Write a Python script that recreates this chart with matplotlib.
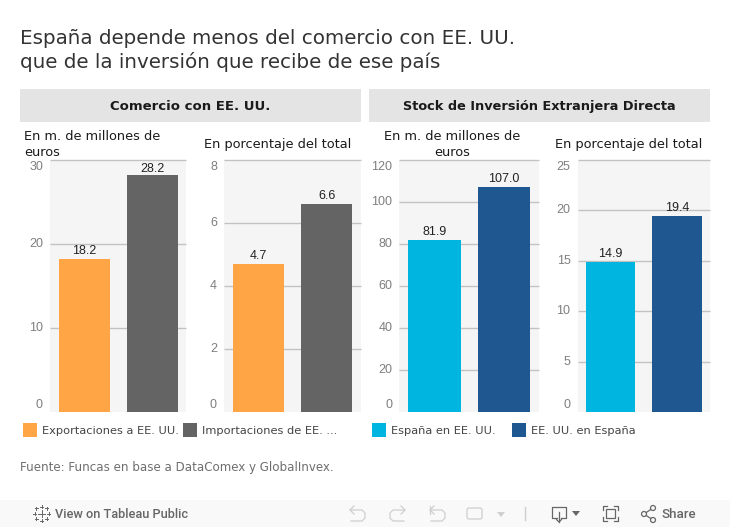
import matplotlib
matplotlib.use('Agg')
import matplotlib.pyplot as plt
from matplotlib.patches import Rectangle, Circle, FancyBboxPatch

# --- Data ---
categories = ['a', 'b']
comercio_millones = [18.2, 28.2]
comercio_pct = [4.7, 6.6]
inversion_millones = [81.9, 107.0]
inversion_pct = [14.9, 19.4]

ticks_comercio_millones = [0, 10, 20, 30]
ticks_comercio_pct = [0, 2, 4, 6, 8]
ticks_inversion_millones = [0, 20, 40, 60, 80, 100, 120]
ticks_inversion_pct = [0, 5, 10, 15, 20, 25]

title_lines = 'España depende menos del comercio con EE. UU.\nque de la inversión que recibe de ese país'
source = 'Fuente: Funcas en base a DataComex y GlobalInvex.'

# --- Colours ---
ORANGE = '#ffa545'
GREY = '#646464'
CYAN = '#00b5e0'
BLUE = '#1f5791'
PANEL = '#f5f5f5'
HEADER = '#e4e4e4'
GRID = '#c2c2c2'

W, H = 730, 527
SANS = 'DejaVu Sans'
ARIAL = 'Liberation Sans'

fig = plt.figure(figsize=(W / 100, H / 100), dpi=100)

# overlay in pixel coordinates for headers, legends and toolbar
ov = fig.add_axes([0, 0, 1, 1], zorder=0)
ov.set_xlim(0, W)
ov.set_ylim(H, 0)
ov.axis('off')


def add_chart(x0, x1, values, ticks, colors):
    ax = fig.add_axes([x0 / W, 1 - 412 / H, (x1 - x0) / W, 252 / H], zorder=1)
    ax.set_facecolor(PANEL)
    ax.bar([0, 1], values, width=0.75, color=colors, zorder=3)
    ax.set_xlim(-0.5, 1.5)
    ax.set_ylim(0, ticks[-1])
    ax.set_xticks([])
    ax.set_yticks(ticks)
    ax.set_yticklabels([])
    ax.tick_params(axis='y', length=0)
    for side in ax.spines:
        ax.spines[side].set_visible(False)
    for t in ticks[1:]:
        ax.axhline(t, color=GRID, lw=1, zorder=2, clip_on=False, solid_capstyle='butt')
    # first and last tick labels are pushed inside the plot height, as in the original
    for t in ticks:
        shift = 0
        if t == ticks[-1]:
            shift = -7
        elif t == ticks[0]:
            shift = 7
        ax.annotate(str(t), (0, t), xycoords=ax.get_yaxis_transform(),
                    xytext=(-7, shift), textcoords='offset pixels',
                    ha='right', va='center', fontsize=9, family=ARIAL, color='#7f7f7f',
                    annotation_clip=False)
    for i, v in enumerate(values):
        # the label of a bar close to the top is squeezed against it
        gap = 0 if v / ticks[-1] > 0.92 else 2
        ax.annotate(f'{v:.1f}', (i, v), xytext=(0, gap), textcoords='offset pixels',
                    ha='center', va='bottom', fontsize=9, family=ARIAL, color='#222222', zorder=5)
    return ax


add_chart(50, 186, comercio_millones, ticks_comercio_millones, [ORANGE, GREY])
add_chart(224, 361, comercio_pct, ticks_comercio_pct, [ORANGE, GREY])
add_chart(399.5, 539, inversion_millones, ticks_inversion_millones, [CYAN, BLUE])
add_chart(577.5, 710, inversion_pct, ticks_inversion_pct, [CYAN, BLUE])

# Title
ov.text(20, 50.5, title_lines, fontsize=14.3, family=SANS, color='#333333',
        ha='left', va='center', linespacing=1.21)

# Header bands
for x0, x1, size, label in [(20, 361, 9.55, 'Comercio con EE. UU.'),
                            (369, 710, 9.3, 'Stock de Inversión Extranjera Directa')]:
    ov.add_patch(Rectangle((x0, 89), x1 - x0, 33, color=HEADER, lw=0))
    ov.text((x0 + x1) / 2, 106.5, label, fontsize=size, family=SANS, weight='bold',
            color='#1a1a1a', ha='center', va='center')

# Sub-titles
ov.text(24, 144.5, 'En m. de millones de\neuros', fontsize=9.3, family=SANS, color='#1a1a1a',
        ha='left', va='center', linespacing=1.2)
ov.text(204, 144.5, 'En porcentaje del total', fontsize=9.3, family=SANS, color='#1a1a1a',
        ha='left', va='center')
ov.text(452.5, 144.5, 'En m. de millones de\neuros', fontsize=9.3, family=SANS, color='#1a1a1a',
        ha='center', va='center', linespacing=1.2, multialignment='center')
ov.text(555, 144.5, 'En porcentaje del total', fontsize=9.3, family=SANS, color='#1a1a1a',
        ha='left', va='center')

# Legends
legend_items = [(23, ORANGE, 'Exportaciones a EE. UU.'),
                (183, GREY, 'Importaciones de EE. ...'),
                (372, CYAN, 'España en EE. UU.'),
                (512, BLUE, 'EE. UU. en España')]
for x, color, label in legend_items:
    ov.add_patch(Rectangle((x, 423), 14, 14, color=color, lw=0))
    ov.text(x + 19, 431, label, fontsize=8.2, family=SANS, color='#444444', ha='left', va='center')

# Source
ov.text(20, 467.5, source, fontsize=8.6, family=SANS, color='#6e6e6e', ha='left', va='center')

# Toolbar
ov.add_patch(Rectangle((0, 500), W, 27, color='#f9f9f9', lw=0))
ov.text(55, 514, 'View on Tableau Public', fontsize=9.15, family='Roboto', weight='medium',
        color='#666666', ha='left', va='center')
ov.text(662, 514, 'Share', fontsize=9.6, family='Roboto', weight='medium',
        color='#666666', ha='left', va='center')

# Tableau logo
for cx, cy, r in [(41.5, 513.5, 3.5), (34.5, 513.5, 1.8), (48.5, 513.5, 1.8), (41.5, 506.5, 1.8),
                  (41.5, 520.5, 1.8), (36.2, 508.2, 1.5), (46.8, 508.2, 1.5),
                  (36.2, 518.8, 1.5), (46.8, 518.8, 1.5)]:
    ov.plot([cx - r, cx + r], [cy, cy], color='#666666', lw=0.7)
    ov.plot([cx, cx], [cy - r, cy + r], color='#666666', lw=0.7)

# Undo / redo icons
ICON_OFF = '#cfcfcf'
ICON_ON = '#666666'
for x, flip in [(350, False), (390, True), (430, False)]:
    xs = [0, 12, 15, 15, 12, 1] if not flip else [15, 3, 0, 0, 3, 14]
    ys = [510, 510, 513, 518, 521, 521]
    ov.plot([x + v for v in xs], ys, color=ICON_OFF, lw=0.9)
    tip = x + (0 if not flip else 15)
    d = 4 if not flip else -4
    ov.plot([tip + d, tip, tip + d], [506, 510, 514], color=ICON_OFF, lw=0.9)
ov.plot([430, 430], [506, 514], color=ICON_OFF, lw=0.9)
ov.add_patch(FancyBboxPatch((469, 510), 11, 7, boxstyle='round,pad=2', fill=False, ec=ICON_OFF, lw=0.9))
ov.fill([497, 505, 501], [512, 512, 517], color=ICON_OFF, lw=0)
ov.plot([525, 525], [507, 520], color=ICON_OFF, lw=1)

# Download
ov.plot([557, 552, 552, 566, 566, 561], [518, 518, 507, 507, 518, 518], color=ICON_ON, lw=0.9)
ov.plot([559, 559], [512, 522], color=ICON_ON, lw=0.9)
ov.plot([556.5, 559, 561.5], [519.5, 522, 519.5], color=ICON_ON, lw=0.9)
ov.fill([572, 580, 576], [511, 511, 516], color=ICON_ON, lw=0)

# Fullscreen
ov.add_patch(Rectangle((606, 509), 9, 9, fill=False, ec=ICON_ON, lw=0.9))
for cx, sx in [(603, 1), (618, -1)]:
    for cy, sy in [(506, 1), (521, -1)]:
        ov.plot([cx + 4 * sx, cx, cx], [cy, cy, cy + 4 * sy], color=ICON_ON, lw=0.9)

# Share icon
for a, b in [((644, 514), (653, 508)), ((644, 514), (653, 520))]:
    ov.plot([a[0], b[0]], [a[1], b[1]], color=ICON_ON, lw=0.9)
for c in [(644, 514), (653, 508), (653, 520)]:
    ov.add_patch(Circle(c, 2.5, fc='#f9f9f9', ec=ICON_ON, lw=0.9, zorder=4))

fig.savefig('out.png', dpi=100)
